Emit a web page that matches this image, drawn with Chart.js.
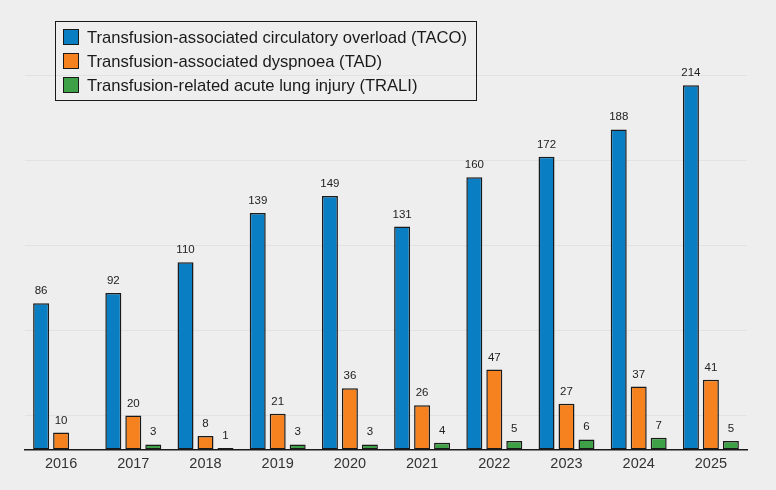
<!DOCTYPE html>
<html lang="en">
<head>
    <meta charset="UTF-8">
    <title>Transfusion reactions by year</title>
    <style>
        html, body { margin: 0; padding: 0; background: #eeeeee; }
        body { width: 776px; height: 490px; overflow: hidden; position: relative; font-family: "Liberation Sans", Arial, sans-serif; }
        #wrap { position: absolute; left: 0; top: 0; width: 776px; height: 490px; }
        #legend { position: absolute; left: 55px; top: 21px; width: 420px; height: 78px; border: 1px solid #1a1a1a; box-sizing: content-box; }
        .item { position: absolute; left: 7px; height: 24px; line-height: 24px; font-size: 16.6px; color: #1a1a1a; white-space: nowrap; }
        .swatch { display: inline-block; width: 14px; height: 14px; border: 1px solid #1a1a1a; vertical-align: -2px; margin-right: 8px; }
    </style>
    <script src="https://cdn.jsdelivr.net/npm/chart.js"></script>
</head>
<body>
    <div id="wrap"><canvas id="chart" width="776" height="490"></canvas></div>
    <div id="legend"></div>

    <script>
        // values
        const years = ['2016', '2017', '2018', '2019', '2020', '2021', '2022', '2023', '2024', '2025'];
        const taco = [86, 92, 110, 139, 149, 131, 160, 172, 188, 214];
        const tad = [10, 20, 8, 21, 36, 26, 47, 27, 37, 41];
        const trali = [null, 3, 1, 3, 3, 4, 5, 6, 7, 5];
        const gridValues = [20, 70, 120, 170, 220];

        const seriesNames = [
            'Transfusion-associated circulatory overload (TACO)',
            'Transfusion-associated dyspnoea (TAD)',
            'Transfusion-related acute lung injury (TRALI)'
        ];
        const seriesColors = ['#0a7ec3', '#f5821f', '#3fa147'];

        // legend box (html, drawn over the canvas)
        const legend = document.getElementById('legend');
        seriesNames.forEach((name, i) => {
            const div = document.createElement('div');
            div.className = 'item';
            div.style.top = (4 + i * 24) + 'px';
            div.innerHTML = `<span class="swatch" style="background:${seriesColors[i]}"></span>${name}`;
            legend.appendChild(div);
        });

        // numbers above the bars
        const valueLabels = {
            id: 'valueLabels',
            afterDatasetsDraw(chart) {
                const ctx = chart.ctx;
                ctx.save();
                ctx.font = '11.5px "Liberation Sans", Arial, sans-serif';
                ctx.fillStyle = '#222';
                ctx.textAlign = 'center';
                ctx.textBaseline = 'alphabetic';
                chart.data.datasets.forEach((ds, i) => {
                    chart.getDatasetMeta(i).data.forEach((bar, j) => {
                        const v = ds.data[j];
                        if (v === null || v === undefined) return;
                        ctx.fillText(String(v), bar.x, bar.y - 9);
                    });
                });
                ctx.restore();
            }
        };

        const datasets = [taco, tad, trali].map((arr, i) => ({
            label: seriesNames[i],
            data: arr,
            backgroundColor: seriesColors[i],
            borderColor: '#1a1a1a',
            borderWidth: 1.5,
            borderSkipped: false,
            categoryPercentage: 0.83,
            barPercentage: 0.8
        }));

        new Chart(document.getElementById('chart'), {
            type: 'bar',
            data: { labels: years, datasets: datasets },
            plugins: [valueLabels],
            options: {
                responsive: false,
                animation: false,
                layout: { padding: { left: 25, right: 29, top: 75, bottom: 11 } },
                plugins: {
                    legend: { display: false },
                    tooltip: { enabled: false }
                },
                scales: {
                    x: {
                        grid: { display: false, drawTicks: false },
                        border: { display: true, color: '#1a1a1a', width: 1.5 },
                        ticks: {
                            color: '#333',
                            padding: 6,
                            font: { family: '"Liberation Sans", Arial, sans-serif', size: 14.5 }
                        }
                    },
                    y: {
                        min: 0,
                        max: 220,
                        afterBuildTicks: axis => {
                            axis.ticks = gridValues.map(v => ({ value: v }));
                        },
                        ticks: { display: false },
                        grid: { color: '#e2e2e2', lineWidth: 1, drawTicks: false },
                        border: { display: false }
                    }
                }
            }
        });
    </script>
</body>
</html>
